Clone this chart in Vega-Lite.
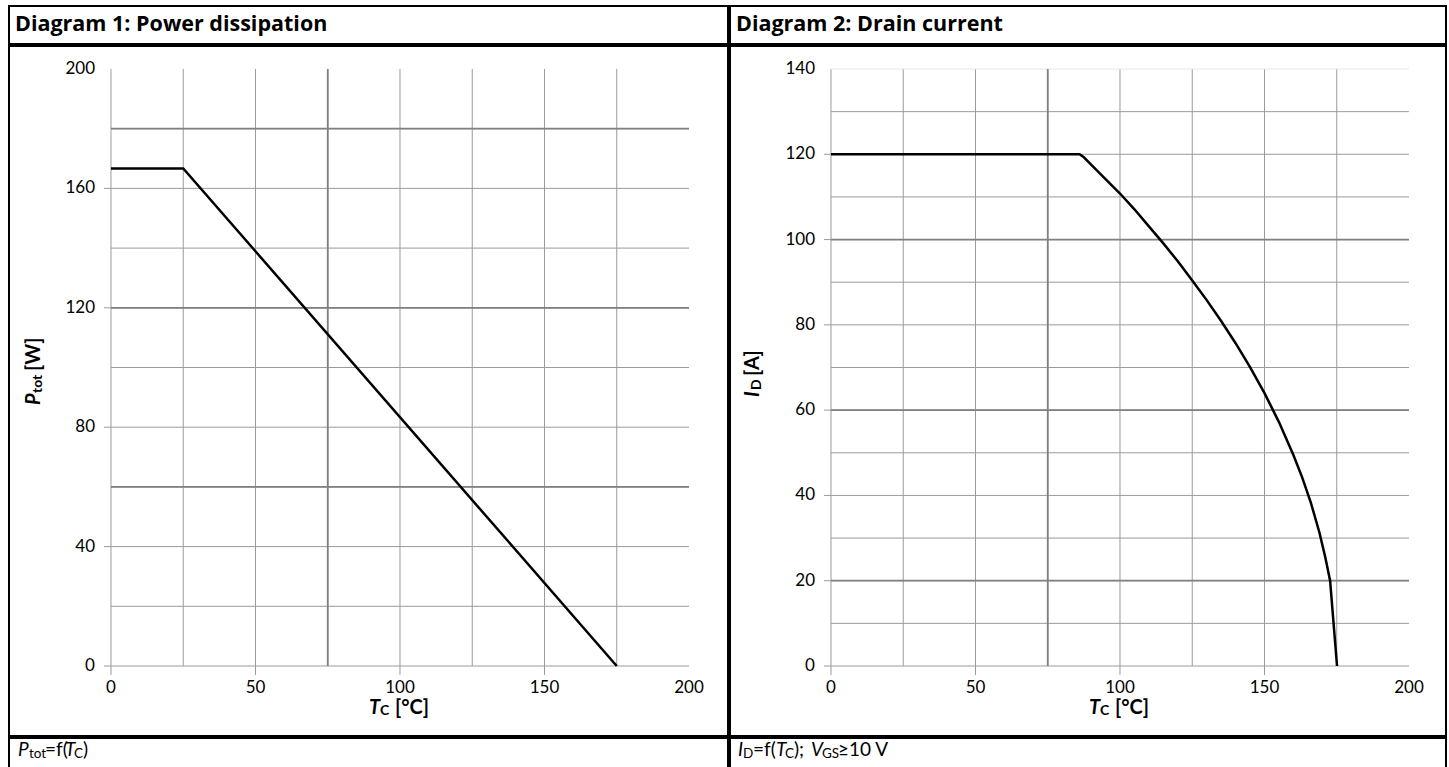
{
  "$schema": "https://vega.github.io/schema/vega-lite/v6.json",
  "background": "white",
  "padding": {"left": 8, "top": 5, "right": 0, "bottom": 0},
  "spacing": 0,
  "config": {
    "view": {"stroke": "black", "strokeWidth": 2},
    "font": "Lato",
    "text": {"font": "Lato", "color": "black"},
    "concat": {"spacing": 0}
  },
  "datasets": {
    "p1_vmaj": [{"T": 0}, {"T": 50}, {"T": 100}, {"T": 150}],
    "p1_vmin": [{"T": 25}, {"T": 75}, {"T": 125}, {"T": 175}],
    "p1_hmaj": [{"P": 0}, {"P": 40}, {"P": 80}, {"P": 120}, {"P": 160}],
    "p1_hmin": [{"P": 20}, {"P": 60}, {"P": 100}, {"P": 140}, {"P": 180}],
    "p1_dark_v": [{"T": 75}],
    "p1_dark_h": [{"P": 60}, {"P": 120}, {"P": 180}],
    "p1_xlab": [{"T": 0}, {"T": 50}, {"T": 100}, {"T": 150}, {"T": 200}],
    "p1_ylab": [{"P": 0}, {"P": 40}, {"P": 80}, {"P": 120}, {"P": 160}, {"P": 200}],
    "p1_curve": [{"T": 0, "P": 166.7}, {"T": 25, "P": 166.7}, {"T": 175, "P": 0}],
    "p2_vmaj": [{"T": 0}, {"T": 50}, {"T": 100}, {"T": 150}],
    "p2_vmin": [{"T": 25}, {"T": 75}, {"T": 125}, {"T": 175}],
    "p2_hmaj": [{"I": 0}, {"I": 20}, {"I": 40}, {"I": 60}, {"I": 80}, {"I": 100}, {"I": 120}],
    "p2_hmin": [{"I": 10}, {"I": 30}, {"I": 50}, {"I": 70}, {"I": 90}, {"I": 110}, {"I": 130}],
    "p2_top": [{"I": 140}],
    "p2_dark_v": [{"T": 75}],
    "p2_dark_h": [{"I": 20}, {"I": 60}, {"I": 100}],
    "p2_xlab": [{"T": 0}, {"T": 50}, {"T": 100}, {"T": 150}, {"T": 200}],
    "p2_ylab": [{"I": 0}, {"I": 20}, {"I": 40}, {"I": 60}, {"I": 80}, {"I": 100}, {"I": 120}, {"I": 140}],
    "p2_curve": [
      {"T": 0, "I": 120}, {"T": 86, "I": 120}, {"T": 87.5, "I": 119.3}, {"T": 90, "I": 117.6},
      {"T": 95, "I": 114.2}, {"T": 100, "I": 110.8}, {"T": 105, "I": 107.1}, {"T": 110, "I": 103.1},
      {"T": 115, "I": 99.1}, {"T": 120, "I": 94.9}, {"T": 125, "I": 90.4}, {"T": 130, "I": 85.8},
      {"T": 135, "I": 80.9}, {"T": 140, "I": 75.7}, {"T": 145, "I": 70.1}, {"T": 150, "I": 64},
      {"T": 155, "I": 57.2}, {"T": 160, "I": 49.5}, {"T": 163, "I": 44.3}, {"T": 166, "I": 38.4},
      {"T": 169, "I": 31.3}, {"T": 171, "I": 25.6}, {"T": 172.7, "I": 20}, {"T": 175.1, "I": 0}
    ]
  },
  "hconcat": [
    {
      "spacing": 0,
      "vconcat": [
        {
          "width": 719, "height": 38,
          "data": {"values": [{"title": "Diagram 1: Power dissipation"}]},
          "mark": {"type": "text", "font": "Open Sans", "align": "left", "baseline": "middle", "fontWeight": "bold", "fontSize": 21.5, "dx": 6, "dy": 0},
          "encoding": {
            "text": {"field": "title"},
            "x": {"datum": 0, "type": "quantitative", "scale": {"domain": [0, 1]}, "axis": null}
          }
        },
        {
          "width": 719, "height": 690,
          "layer": [
            {
              "data": {"name": "p1_vmaj"},
              "mark": {"type": "rule", "color": "#9b9b9b", "strokeWidth": 1},
              "encoding": {
                "x": {"field": "T", "type": "quantitative", "scale": {"domain": [-35.294, 213.495], "nice": false, "zero": false}, "axis": null},
                "y": {"datum": -3.0, "type": "quantitative", "scale": {"domain": [-23.45, 207.705], "nice": false, "zero": false}, "axis": null},
                "y2": {"datum": 200}
              }
            },
            {
              "data": {"name": "p1_vmin"},
              "mark": {"type": "rule", "color": "#9b9b9b", "strokeWidth": 1},
              "encoding": {
                "x": {"field": "T", "type": "quantitative", "axis": null},
                "y": {"datum": 0, "type": "quantitative", "axis": null},
                "y2": {"datum": 200}
              }
            },
            {
              "data": {"name": "p1_hmaj"},
              "mark": {"type": "rule", "color": "#9b9b9b", "strokeWidth": 1},
              "encoding": {
                "y": {"field": "P", "type": "quantitative", "axis": null},
                "x": {"datum": -2.42, "type": "quantitative", "axis": null},
                "x2": {"datum": 200}
              }
            },
            {
              "data": {"name": "p1_hmin"},
              "mark": {"type": "rule", "color": "#9b9b9b", "strokeWidth": 1},
              "encoding": {
                "y": {"field": "P", "type": "quantitative", "axis": null},
                "x": {"datum": 0, "type": "quantitative", "axis": null},
                "x2": {"datum": 200}
              }
            },
            {
              "data": {"name": "p1_dark_v"},
              "mark": {"type": "rule", "color": "#808080", "strokeWidth": 1.8},
              "encoding": {
                "x": {"field": "T", "type": "quantitative", "axis": null},
                "y": {"datum": 0, "type": "quantitative", "axis": null},
                "y2": {"datum": 200}
              }
            },
            {
              "data": {"name": "p1_dark_h"},
              "mark": {"type": "rule", "color": "#808080", "strokeWidth": 1.8},
              "encoding": {
                "y": {"field": "P", "type": "quantitative", "axis": null},
                "x": {"datum": 0, "type": "quantitative", "axis": null},
                "x2": {"datum": 200}
              }
            },
            {
              "data": {"name": "p1_curve"},
              "mark": {"type": "line", "color": "black", "strokeWidth": 2.5},
              "encoding": {
                "x": {"field": "T", "type": "quantitative", "axis": null},
                "y": {"field": "P", "type": "quantitative", "axis": null}
              }
            },
            {
              "data": {"name": "p1_xlab"},
              "mark": {"type": "text", "fontSize": 17, "align": "center", "baseline": "top", "dy": 14},
              "encoding": {
                "x": {"field": "T", "type": "quantitative", "axis": null},
                "y": {"datum": 0, "type": "quantitative", "axis": null},
                "text": {"field": "T", "type": "quantitative"}
              }
            },
            {
              "data": {"name": "p1_ylab"},
              "mark": {"type": "text", "fontSize": 17, "align": "right", "baseline": "middle", "dx": -16},
              "encoding": {
                "y": {"field": "P", "type": "quantitative", "axis": null},
                "x": {"datum": 0, "type": "quantitative", "axis": null},
                "text": {"field": "P", "type": "quantitative"}
              }
            },
            {
              "data": {"values": [{}]},
              "mark": {"type": "text", "text": "T", "fontWeight": "bold", "fontStyle": "italic", "fontSize": 20, "align": "left", "baseline": "alphabetic", "dx": -31},
              "encoding": {"x": {"datum": 100, "type": "quantitative", "axis": null}, "y": {"datum": -16.08, "type": "quantitative", "axis": null}}
            },
            {
              "data": {"values": [{}]},
              "mark": {"type": "text", "text": "C", "fontWeight": "bold", "fontSize": 14, "align": "left", "baseline": "alphabetic", "dx": -20, "dy": 1},
              "encoding": {"x": {"datum": 100, "type": "quantitative", "axis": null}, "y": {"datum": -16.08, "type": "quantitative", "axis": null}}
            },
            {
              "data": {"values": [{}]},
              "mark": {"type": "text", "text": "[°C]", "fontWeight": "bold", "fontSize": 20, "align": "left", "baseline": "alphabetic", "dx": -5},
              "encoding": {"x": {"datum": 100, "type": "quantitative", "axis": null}, "y": {"datum": -16.08, "type": "quantitative", "axis": null}}
            },
            {
              "data": {"values": [{}]},
              "mark": {"type": "text", "text": "P", "fontWeight": "bold", "fontStyle": "italic", "fontSize": 20, "align": "left", "baseline": "alphabetic", "angle": 270, "dx": 7},
              "encoding": {"x": {"datum": -24.5, "type": "quantitative", "axis": null}, "y": {"datum": 85.1, "type": "quantitative", "axis": null}}
            },
            {
              "data": {"values": [{}]},
              "mark": {"type": "text", "text": "tot", "fontWeight": "bold", "fontSize": 14, "align": "left", "baseline": "alphabetic", "angle": 270, "dx": 19, "dy": 2},
              "encoding": {"x": {"datum": -24.5, "type": "quantitative", "axis": null}, "y": {"datum": 85.1, "type": "quantitative", "axis": null}}
            },
            {
              "data": {"values": [{}]},
              "mark": {"type": "text", "text": "[W]", "fontWeight": "bold", "fontSize": 20, "align": "left", "baseline": "alphabetic", "angle": 270, "dx": 41},
              "encoding": {"x": {"datum": -24.5, "type": "quantitative", "axis": null}, "y": {"datum": 85.1, "type": "quantitative", "axis": null}}
            }
          ]
        },
        {
          "width": 719, "height": 40,
          "data": {"values": [{}]},
          "encoding": {"x": {"datum": 0, "type": "quantitative", "scale": {"domain": [0, 1]}, "axis": null}},
          "layer": [
            {"mark": {"type": "text", "text": "P", "fontStyle": "italic", "fontSize": 19, "align": "left", "baseline": "alphabetic", "dx": 9, "dy": -2}},
            {"mark": {"type": "text", "text": "tot", "fontSize": 13.5, "align": "left", "baseline": "alphabetic", "dx": 20, "dy": 0}},
            {"mark": {"type": "text", "text": "=f(", "fontSize": 19, "align": "left", "baseline": "alphabetic", "dx": 36, "dy": -2}},
            {"mark": {"type": "text", "text": "T", "fontStyle": "italic", "fontSize": 19, "align": "left", "baseline": "alphabetic", "dx": 56, "dy": -2}},
            {"mark": {"type": "text", "text": "C", "fontSize": 13.5, "align": "left", "baseline": "alphabetic", "dx": 65, "dy": 0}},
            {"mark": {"type": "text", "text": ")", "fontSize": 19, "align": "left", "baseline": "alphabetic", "dx": 74, "dy": -2}}
          ]
        }
      ]
    },
    {
      "spacing": 0,
      "vconcat": [
        {
          "width": 716, "height": 38,
          "data": {"values": [{"title": "Diagram 2: Drain current"}]},
          "mark": {"type": "text", "font": "Open Sans", "align": "left", "baseline": "middle", "fontWeight": "bold", "fontSize": 21.5, "dx": 6, "dy": 0},
          "encoding": {
            "text": {"field": "title"},
            "x": {"datum": 0, "type": "quantitative", "scale": {"domain": [0, 1]}, "axis": null}
          }
        },
        {
          "width": 716, "height": 690,
          "layer": [
            {
              "data": {"name": "p2_vmaj"},
              "mark": {"type": "rule", "color": "#9b9b9b", "strokeWidth": 1},
              "encoding": {
                "x": {"field": "T", "type": "quantitative", "scale": {"domain": [-34.948, 212.803], "nice": false, "zero": false}, "axis": null},
                "y": {"datum": -2.11, "type": "quantitative", "scale": {"domain": [-16.415, 145.394], "nice": false, "zero": false}, "axis": null},
                "y2": {"datum": 140}
              }
            },
            {
              "data": {"name": "p2_vmin"},
              "mark": {"type": "rule", "color": "#9b9b9b", "strokeWidth": 1},
              "encoding": {
                "x": {"field": "T", "type": "quantitative", "axis": null},
                "y": {"datum": 0, "type": "quantitative", "axis": null},
                "y2": {"datum": 140}
              }
            },
            {
              "data": {"name": "p2_hmaj"},
              "mark": {"type": "rule", "color": "#9b9b9b", "strokeWidth": 1},
              "encoding": {
                "y": {"field": "I", "type": "quantitative", "axis": null},
                "x": {"datum": -2.42, "type": "quantitative", "axis": null},
                "x2": {"datum": 200}
              }
            },
            {
              "data": {"name": "p2_hmin"},
              "mark": {"type": "rule", "color": "#9b9b9b", "strokeWidth": 1},
              "encoding": {
                "y": {"field": "I", "type": "quantitative", "axis": null},
                "x": {"datum": 0, "type": "quantitative", "axis": null},
                "x2": {"datum": 200}
              }
            },
            {
              "data": {"name": "p2_top"},
              "mark": {"type": "rule", "color": "#e6e6e6", "strokeWidth": 1},
              "encoding": {
                "y": {"field": "I", "type": "quantitative", "axis": null},
                "x": {"datum": 0, "type": "quantitative", "axis": null},
                "x2": {"datum": 200}
              }
            },
            {
              "data": {"name": "p2_dark_v"},
              "mark": {"type": "rule", "color": "#808080", "strokeWidth": 1.8},
              "encoding": {
                "x": {"field": "T", "type": "quantitative", "axis": null},
                "y": {"datum": 0, "type": "quantitative", "axis": null},
                "y2": {"datum": 140}
              }
            },
            {
              "data": {"name": "p2_dark_h"},
              "mark": {"type": "rule", "color": "#808080", "strokeWidth": 1.8},
              "encoding": {
                "y": {"field": "I", "type": "quantitative", "axis": null},
                "x": {"datum": 0, "type": "quantitative", "axis": null},
                "x2": {"datum": 200}
              }
            },
            {
              "data": {"name": "p2_curve"},
              "mark": {"type": "line", "color": "black", "strokeWidth": 2.5},
              "encoding": {
                "x": {"field": "T", "type": "quantitative", "axis": null},
                "y": {"field": "I", "type": "quantitative", "axis": null}
              }
            },
            {
              "data": {"name": "p2_xlab"},
              "mark": {"type": "text", "fontSize": 17, "align": "center", "baseline": "top", "dy": 14},
              "encoding": {
                "x": {"field": "T", "type": "quantitative", "axis": null},
                "y": {"datum": 0, "type": "quantitative", "axis": null},
                "text": {"field": "T", "type": "quantitative"}
              }
            },
            {
              "data": {"name": "p2_ylab"},
              "mark": {"type": "text", "fontSize": 17, "align": "right", "baseline": "middle", "dx": -16},
              "encoding": {
                "y": {"field": "I", "type": "quantitative", "axis": null},
                "x": {"datum": 0, "type": "quantitative", "axis": null},
                "text": {"field": "I", "type": "quantitative"}
              }
            },
            {
              "data": {"values": [{}]},
              "mark": {"type": "text", "text": "T", "fontWeight": "bold", "fontStyle": "italic", "fontSize": 20, "align": "left", "baseline": "alphabetic", "dx": -31},
              "encoding": {"x": {"datum": 100, "type": "quantitative", "axis": null}, "y": {"datum": -11.26, "type": "quantitative", "axis": null}}
            },
            {
              "data": {"values": [{}]},
              "mark": {"type": "text", "text": "C", "fontWeight": "bold", "fontSize": 14, "align": "left", "baseline": "alphabetic", "dx": -20, "dy": 1},
              "encoding": {"x": {"datum": 100, "type": "quantitative", "axis": null}, "y": {"datum": -11.26, "type": "quantitative", "axis": null}}
            },
            {
              "data": {"values": [{}]},
              "mark": {"type": "text", "text": "[°C]", "fontWeight": "bold", "fontSize": 20, "align": "left", "baseline": "alphabetic", "dx": -5},
              "encoding": {"x": {"datum": 100, "type": "quantitative", "axis": null}, "y": {"datum": -11.26, "type": "quantitative", "axis": null}}
            },
            {
              "data": {"values": [{}]},
              "mark": {"type": "text", "text": "I", "fontWeight": "bold", "fontStyle": "italic", "fontSize": 20, "align": "left", "baseline": "alphabetic", "angle": 270, "dx": 3},
              "encoding": {"x": {"datum": -24.9, "type": "quantitative", "axis": null}, "y": {"datum": 62.38, "type": "quantitative", "axis": null}}
            },
            {
              "data": {"values": [{}]},
              "mark": {"type": "text", "text": "D", "fontWeight": "bold", "fontSize": 14, "align": "left", "baseline": "alphabetic", "angle": 270, "dx": 10, "dy": 2},
              "encoding": {"x": {"datum": -24.9, "type": "quantitative", "axis": null}, "y": {"datum": 62.38, "type": "quantitative", "axis": null}}
            },
            {
              "data": {"values": [{}]},
              "mark": {"type": "text", "text": "[A]", "fontWeight": "bold", "fontSize": 20, "align": "left", "baseline": "alphabetic", "angle": 270, "dx": 24},
              "encoding": {"x": {"datum": -24.9, "type": "quantitative", "axis": null}, "y": {"datum": 62.38, "type": "quantitative", "axis": null}}
            }
          ]
        },
        {
          "width": 716, "height": 40,
          "data": {"values": [{}]},
          "encoding": {"x": {"datum": 0, "type": "quantitative", "scale": {"domain": [0, 1]}, "axis": null}},
          "layer": [
            {"mark": {"type": "text", "text": "I", "fontStyle": "italic", "fontSize": 19, "align": "left", "baseline": "alphabetic", "dx": 8, "dy": -2}},
            {"mark": {"type": "text", "text": "D", "fontSize": 13.5, "align": "left", "baseline": "alphabetic", "dx": 13, "dy": 0}},
            {"mark": {"type": "text", "text": "=f(", "fontSize": 19, "align": "left", "baseline": "alphabetic", "dx": 23, "dy": -2}},
            {"mark": {"type": "text", "text": "T", "fontStyle": "italic", "fontSize": 19, "align": "left", "baseline": "alphabetic", "dx": 46, "dy": -2}},
            {"mark": {"type": "text", "text": "C", "fontSize": 13.5, "align": "left", "baseline": "alphabetic", "dx": 55, "dy": 0}},
            {"mark": {"type": "text", "text": ");", "fontSize": 19, "align": "left", "baseline": "alphabetic", "dx": 64, "dy": -2}},
            {"mark": {"type": "text", "text": "V", "fontStyle": "italic", "fontSize": 19, "align": "left", "baseline": "alphabetic", "dx": 81, "dy": -2}},
            {"mark": {"type": "text", "text": "GS", "fontSize": 13.5, "align": "left", "baseline": "alphabetic", "dx": 92, "dy": 0}},
            {"mark": {"type": "text", "text": "≥10 V", "fontSize": 19, "align": "left", "baseline": "alphabetic", "dx": 108, "dy": -2}}
          ]
        }
      ]
    }
  ]
}
